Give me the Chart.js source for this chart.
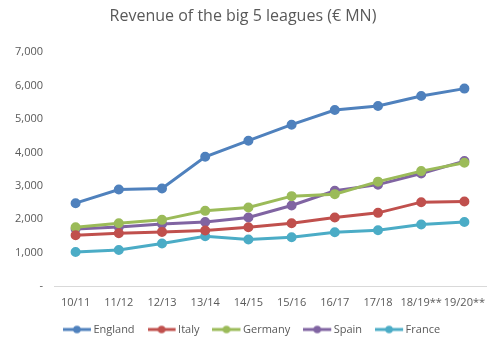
<!DOCTYPE html>
<html>
<head>
<meta charset="utf-8">
<script src="https://cdn.jsdelivr.net/npm/chart.js@4"></script>
<style>
  body { margin: 0; background: #fff; }
  #wrap { width: 500px; height: 349px; }
</style>
</head>
<body>
<div id="wrap"><canvas id="grafico"></canvas></div>
<script>
// Temporadas e receitas (€ milhões)
const temporadas = ['10/11', '11/12', '12/13', '13/14', '14/15', '15/16', '16/17', '17/18', '18/19**', '19/20**'];
const england = [2480, 2890, 2920, 3870, 4350, 4830, 5270, 5390, 5690, 5910];
const italy = [1520, 1580, 1620, 1660, 1760, 1880, 2050, 2190, 2510, 2530];
const germany = [1760, 1880, 1980, 2250, 2350, 2690, 2750, 3125, 3440, 3690];
const spain = [1705, 1765, 1855, 1915, 2050, 2410, 2850, 3035, 3370, 3740];
const france = [1020, 1080, 1270, 1490, 1390, 1460, 1610, 1670, 1840, 1915];
const ticksY = [0, 1000, 2000, 3000, 4000, 5000, 6000, 7000];

const cinza = '#595959';

// Ícone da legenda: linha com um ponto no meio
// (imagem de 30px com o ícone nos primeiros 28px, para ficar colado ao texto)
function iconeLegenda(cor) {
    const c = document.createElement('canvas');
    c.width = 30; c.height = 10;
    const g = c.getContext('2d');
    g.strokeStyle = cor;
    g.lineWidth = 3;
    g.beginPath();
    g.moveTo(0, 5); g.lineTo(28, 5);
    g.stroke();
    g.fillStyle = cor;
    g.beginPath();
    g.arc(14, 5, 3.8, 0, Math.PI * 2);
    g.fill();
    return c;
}

function serie(nome, dados, cor) {
    return {
        label: nome,
        data: dados,
        borderColor: cor,
        backgroundColor: cor,
        borderWidth: 3,
        pointRadius: 3.5,
        pointHoverRadius: 4,
        pointStyle: 'circle',
        tension: 0
    };
}

// Desloca a legenda um pouco para a direita
const ajusteLegenda = {
    id: 'ajusteLegenda',
    afterLayout(chart) {
        chart.legend.left += 11;
        chart.legend.right += 11;
    }
};

const ctx = document.getElementById('grafico').getContext('2d');
new Chart(ctx, {
    type: 'line',
    data: {
        labels: temporadas,
        datasets: [
            serie('England', england, '#4F81BD'),
            serie('Italy', italy, '#C0504D'),
            serie('Germany', germany, '#9BBB59'),
            serie('Spain', spain, '#8064A2'),
            serie('France', france, '#4BACC6')
        ]
    },
    plugins: [ajusteLegenda],
    options: {
        responsive: true,
        maintainAspectRatio: false,
        animation: false,
        layout: { padding: { left: 0, right: 14, top: 4, bottom: 4 } },
        plugins: {
            title: {
                display: true,
                text: 'Revenue of the big 5 leagues (€ MN)',
                color: cinza,
                font: { family: 'Open Sans', size: 16, weight: 'normal' },
                padding: { top: 3, bottom: 26 }
            },
            legend: {
                position: 'bottom',
                labels: {
                    color: cinza,
                    font: { family: 'Open Sans', size: 11 },
                    usePointStyle: true,
                    pointStyleWidth: 20,
                    padding: 18,
                    generateLabels(chart) {
                        return chart.data.datasets.map((ds, i) => ({
                            text: ds.label,
                            fontColor: cinza,
                            pointStyle: iconeLegenda(ds.borderColor),
                            datasetIndex: i,
                            hidden: false,
                            lineWidth: 0,
                            strokeStyle: ds.borderColor,
                            fillStyle: ds.borderColor
                        }));
                    }
                }
            },
            tooltip: { enabled: false }
        },
        scales: {
            x: {
                offset: true,
                grid: { display: false, drawTicks: false },
                border: { display: true, color: '#D9D9D9', width: 1 },
                afterFit(scale) { scale.height = 20; },
                ticks: {
                    color: cinza,
                    font: { family: 'Open Sans', size: 11 },
                    maxRotation: 0,
                    autoSkip: false,
                    padding: 10
                }
            },
            y: {
                min: 0,
                max: 7000,
                grid: { display: false, drawTicks: false },
                border: { display: false },
                afterBuildTicks(scale) {
                    scale.ticks = ticksY.map(v => ({ value: v }));
                },
                afterFit(scale) { scale.width = 54; },
                ticks: {
                    color: cinza,
                    font: { family: 'Open Sans', size: 11 },
                    padding: 11,
                    callback: v => v === 0 ? '-' : v.toLocaleString('en-US')
                }
            }
        }
    }
});
</script>
</body>
</html>
